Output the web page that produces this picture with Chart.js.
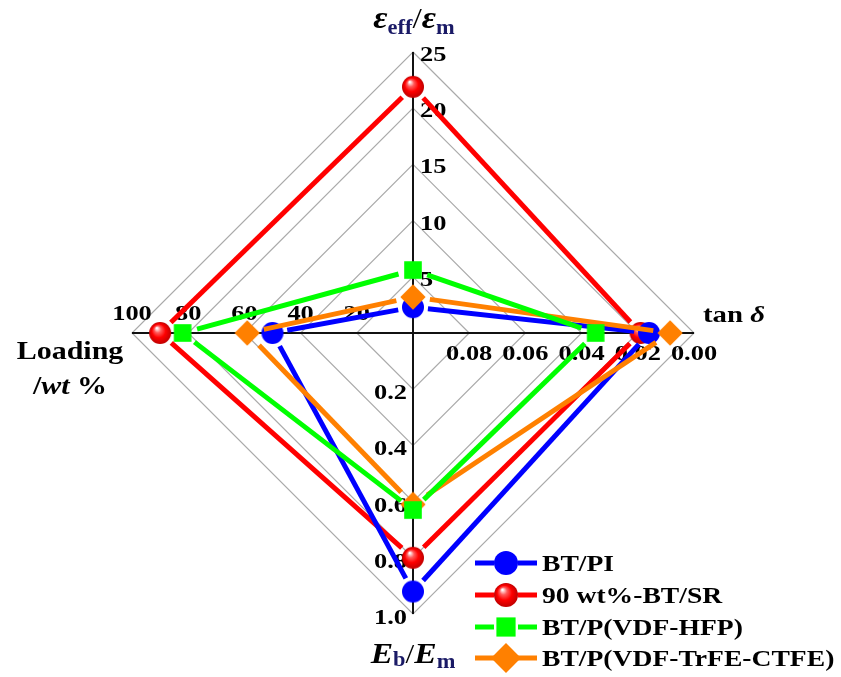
<!DOCTYPE html>
<html>
<head>
<meta charset="utf-8">
<script src="https://cdn.jsdelivr.net/npm/chart.js@4/dist/chart.umd.min.js"></script>
<style>
  html, body { margin: 0; padding: 0; background: #fff; }
  canvas { display: block; }
</style>
</head>
<body>
<canvas id="radar" width="841" height="677"></canvas>
<script>
// Axes, clockwise from the top
const axisNames = ['εeff/εm', 'tan δ', 'Eb/Em', 'Loading /wt %'];
const seriesNames = ['BT/PI', '90 wt%-BT/SR', 'BT/P(VDF-HFP)', 'BT/P(VDF-TrFE-CTFE)'];
const seriesColors = ['#0000ff', '#ff0000', '#00ff00', '#ff8000'];
const seriesMarkers = ['circle', 'sphere', 'square', 'diamond'];

// One value per composite along each axis
const permittivityRatio = [2.3, 21.9, 5.6, 3.2];
const lossTangent = [0.016, 0.019, 0.035, 0.0085];
const breakdownRatio = [0.92, 0.80, 0.63, 0.61];
const fillerLoading = [50, 90, 82, 59];

// Tick labels of each axis, from the centre outwards
const permTicks = ['5', '10', '15', '20', '25'];
const tanTicks = ['0.08', '0.06', '0.04', '0.02', '0.00'];
const ebTicks = ['0.2', '0.4', '0.6', '0.8', '1.0'];
const loadTicks = ['20', '40', '60', '80', '100'];

// Value at the centre and at the rim of each axis (tan δ runs inwards)
const axisRanges = [
  { center: 0, outer: 25 },
  { center: 0.10, outer: 0 },
  { center: 0, outer: 1 },
  { center: 0, outer: 100 }
];
const norm = (v, k) => (v - axisRanges[k].center) / (axisRanges[k].outer - axisRanges[k].center);

const SERIF = '"Liberation Serif", "Times New Roman", serif';
const NAVY = '#1a1a66';

// ---- marker sprites ----
function paintMarker(g, kind, color, cx, cy, size) {
  g.save();
  if (kind === 'circle') {
    g.fillStyle = color;
    g.beginPath(); g.arc(cx, cy, size, 0, Math.PI * 2); g.fill();
  } else if (kind === 'sphere') {
    const grad = g.createRadialGradient(cx - size * 0.3, cy - size * 0.45, 0.5, cx, cy, size);
    grad.addColorStop(0, '#ffffff');
    grad.addColorStop(0.28, '#ff5a5a');
    grad.addColorStop(0.6, '#ff0000');
    grad.addColorStop(1, '#c00000');
    g.fillStyle = grad;
    g.beginPath(); g.arc(cx, cy, size, 0, Math.PI * 2); g.fill();
  } else if (kind === 'square') {
    g.fillStyle = color;
    g.fillRect(cx - size * 0.8, cy - size * 0.8, size * 1.6, size * 1.6);
  } else if (kind === 'diamond') {
    const h = size * 1.15;
    g.fillStyle = color;
    g.beginPath();
    g.moveTo(cx, cy - h); g.lineTo(cx + h, cy); g.lineTo(cx, cy + h); g.lineTo(cx - h, cy);
    g.closePath(); g.fill();
  }
  g.restore();
}
function makeSprite(kind, color) {
  const s = 32;
  const c = document.createElement('canvas');
  c.width = s; c.height = s;
  paintMarker(c.getContext('2d'), kind, color, s / 2, s / 2, 11);
  return c;
}
const sprites = seriesMarkers.map((m, i) => makeSprite(m, seriesColors[i]));
const gaps = [15, 15, 15, 17];
const drawOrder = [2, 3, 0, 1];

// ---- text helpers (slightly widened serif lettering) ----
function drawRuns(ctx, runs, x, y, align, sx) {
  let w = 0;
  runs.forEach(r => { ctx.font = r.font; r.w = ctx.measureText(r.t).width; w += r.w; });
  ctx.save();
  ctx.translate(x, y);
  ctx.scale(sx, 1);
  let cx = align === 'center' ? -w / 2 : align === 'right' ? -w : 0;
  ctx.textAlign = 'left';
  ctx.textBaseline = 'alphabetic';
  runs.forEach(r => {
    ctx.font = r.font;
    ctx.fillStyle = r.color || '#000';
    ctx.fillText(r.t, cx, r.dy || 0);
    cx += r.w;
  });
  ctx.restore();
}
const tickFont = 'bold 22px ' + SERIF;
const TX = 1.2;

// Per-axis tick labels, placed on the rings through the radial scale
const axisTickLabels = {
  id: 'axisTickLabels',
  beforeDatasetsDraw(chart) {
    const s = chart.scales.r, ctx = chart.ctx;
    const put = (labels, k, fn) => labels.forEach(t => {
      const p = s.getPointPositionForValue(k, norm(parseFloat(t), k));
      fn(t, p);
    });
    put(permTicks, 0, (t, p) => drawRuns(ctx, [{ t, font: tickFont }], p.x + 7, p.y + 9, 'left', TX));
    put(tanTicks, 1, (t, p) => drawRuns(ctx, [{ t, font: tickFont }], p.x, p.y + 27, 'center', TX));
    put(ebTicks, 2, (t, p) => drawRuns(ctx, [{ t, font: tickFont }], p.x - 6, p.y + 10, 'right', TX));
    put(loadTicks, 3, (t, p) => drawRuns(ctx, [{ t, font: tickFont }], p.x, p.y - 13, 'center', TX));
  }
};

// Polygon edges that stop short of each marker
const gappedEdges = {
  id: 'gappedEdges',
  beforeDatasetDraw(chart, args) {
    const i = args.index, pts = args.meta.data, ctx = chart.ctx;
    const gap = gaps[i];
    ctx.save();
    ctx.strokeStyle = seriesColors[i];
    ctx.lineWidth = 5;
    ctx.lineCap = 'butt';
    for (let j = 0; j < pts.length; j++) {
      const a = pts[j], b = pts[(j + 1) % pts.length];
      const dx = b.x - a.x, dy = b.y - a.y, L = Math.hypot(dx, dy);
      if (L <= 2 * gap) continue;
      const ux = dx / L, uy = dy / L;
      ctx.beginPath();
      ctx.moveTo(a.x + ux * gap, a.y + uy * gap);
      ctx.lineTo(b.x - ux * gap, b.y - uy * gap);
      ctx.stroke();
    }
    ctx.restore();
  }
};

// Axis titles and legend
const titlesAndLegend = {
  id: 'titlesAndLegend',
  afterDraw(chart) {
    const ctx = chart.ctx;
    const it = s => 'italic bold ' + s + 'px ' + SERIF;
    const bd = s => 'bold ' + s + 'px ' + SERIF;
    const rg = s => s + 'px ' + SERIF;
    drawRuns(ctx, [
      { t: 'ε', font: it(31) },
      { t: 'eff', font: bd(20), color: NAVY, dy: 6 },
      { t: '/', font: rg(30) },
      { t: 'ε', font: it(31) },
      { t: 'm', font: bd(20), color: NAVY, dy: 6 }
    ], 414, 28, 'center', 1.12);
    drawRuns(ctx, [
      { t: 'E', font: it(30) },
      { t: 'b', font: bd(20), color: NAVY, dy: 3 },
      { t: '/', font: rg(28) },
      { t: 'E', font: it(30) },
      { t: 'm', font: bd(20), color: NAVY, dy: 5 }
    ], 413, 663, 'center', 1.12);
    drawRuns(ctx, [
      { t: 'tan ', font: bd(24) },
      { t: 'δ', font: it(24) }
    ], 703, 322, 'left', 1.2);
    drawRuns(ctx, [{ t: 'Loading', font: bd(25) }], 70, 359, 'center', 1.2);
    drawRuns(ctx, [
      { t: '/', font: bd(25) },
      { t: 'wt', font: it(25) },
      { t: ' %', font: bd(25) }
    ], 70, 394, 'center', 1.2);

    // legend
    const rows = [563, 595, 627, 658];
    seriesNames.forEach((name, i) => {
      const y = rows[i], mx = 506;
      ctx.save();
      ctx.strokeStyle = seriesColors[i];
      ctx.lineWidth = 5;
      ctx.beginPath();
      ctx.moveTo(475, y); ctx.lineTo(mx - 12, y);
      ctx.moveTo(mx + 12, y); ctx.lineTo(537, y);
      ctx.stroke();
      ctx.restore();
      paintMarker(ctx, seriesMarkers[i], seriesColors[i], mx, y, i === 3 ? 13 : 12);
      drawRuns(ctx, [{ t: name, font: bd(23) }], 542, y + 8, 'left', 1.2);
    });
  }
};

const datasets = seriesNames.map((name, i) => ({
  label: name,
  data: [
    norm(permittivityRatio[i], 0),
    norm(lossTangent[i], 1),
    norm(breakdownRatio[i], 2),
    norm(fillerLoading[i], 3)
  ],
  order: drawOrder[i],
  fill: false,
  borderWidth: 0,
  borderColor: seriesColors[i],
  backgroundColor: 'transparent',
  pointStyle: sprites[i],
  pointRadius: 12,
  pointBorderWidth: 0,
  pointHoverRadius: 12
}));

new Chart(document.getElementById('radar'), {
  type: 'radar',
  data: { labels: axisNames, datasets },
  options: {
    responsive: false,
    animation: false,
    events: [],
    layout: { padding: { left: 132, right: 147, top: 52, bottom: 63 } },
    plugins: { legend: { display: false }, tooltip: { enabled: false } },
    scales: {
      r: {
        min: 0,
        max: 1,
        ticks: { display: false, stepSize: 0.2 },
        pointLabels: { display: false },
        grid: { circular: false, color: '#aaaaaa', lineWidth: 1.2 },
        angleLines: { color: '#111111', lineWidth: 2 }
      }
    }
  },
  plugins: [axisTickLabels, gappedEdges, titlesAndLegend]
});
</script>
</body>
</html>
